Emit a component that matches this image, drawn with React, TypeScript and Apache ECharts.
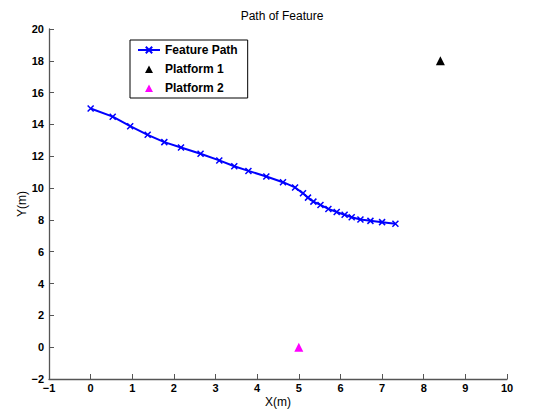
import React, { useEffect, useRef } from "react";
import * as echarts from "echarts";

const pathX = [0.0, 0.53, 0.95, 1.37, 1.77, 2.17, 2.64, 3.09, 3.45, 3.79, 4.22, 4.62, 4.91, 5.1, 5.22, 5.35, 5.52, 5.71, 5.91, 6.1, 6.27, 6.48, 6.72, 7.0, 7.32];
const pathY = [15.0, 14.49, 13.89, 13.35, 12.89, 12.55, 12.16, 11.74, 11.37, 11.08, 10.73, 10.37, 10.04, 9.67, 9.4, 9.15, 8.94, 8.69, 8.5, 8.32, 8.17, 8.03, 7.94, 7.86, 7.76];
const platform1 = [8.4, 18.0];
const platform2 = [5.0, 0.0];
const seriesNames = ["Feature Path", "Platform 1", "Platform 2"];

const xMark = "path://M0,0L10,10M10,0L0,10";
const legendTriangle = "path://M0,0M22,0M22,8M0,8M7,8L11,0.5L15,8Z";
const fontFamily = "'Liberation Sans', Arial, Helvetica, sans-serif";
const fmt = (v: number) => String(v).replace("-", "\u2212");

export default function App() {
  const ref = useRef<HTMLDivElement>(null);
  useEffect(() => {
    if (!ref.current) return;
    const chart = echarts.init(ref.current, undefined, { renderer: "svg" });
    const pathData = pathX.map((x, i) => [x, pathY[i]]);
    chart.setOption({
      animation: false,
      backgroundColor: "#ffffff",
      title: {
        text: "Path of Feature",
        left: 277,
        textAlign: "center",
        top: 5,
        textStyle: { fontFamily, fontSize: 12, fontWeight: "normal", color: "#000" },
      },
      legend: {
        orient: "vertical",
        left: 130,
        top: 40,
        data: [
          { name: seriesNames[0] },
          { name: seriesNames[1], icon: legendTriangle },
          { name: seriesNames[2], icon: legendTriangle },
        ],
        backgroundColor: "#fff",
        borderColor: "#000",
        borderWidth: 1,
        borderRadius: 0,
        padding: [4, 10, 4, 7],
        itemGap: 7,
        itemWidth: 22,
        itemHeight: 8,
        textStyle: { fontFamily, fontSize: 12, fontWeight: "bold", color: "#000" },
      },
      grid: { left: 49, right: 38, top: 29, bottom: 31, containLabel: false },
      xAxis: {
        type: "value",
        min: -1,
        max: 10,
        interval: 1,
        name: "X(m)",
        nameLocation: "middle",
        nameGap: 17,
        nameMoveOverlap: false,
        nameTextStyle: { fontFamily, fontSize: 12, color: "#000" },
        axisLine: { onZero: false, lineStyle: { color: "#555", width: 1.3 } },
        axisTick: { inside: true, length: 5, lineStyle: { color: "#555" } },
        splitLine: { show: false },
        axisLabel: { fontFamily, fontSize: 11, fontWeight: "bold", color: "#000", margin: 3, formatter: fmt },
      },
      yAxis: {
        type: "value",
        min: -2,
        max: 20,
        interval: 2,
        name: "Y(m)",
        nameLocation: "middle",
        nameGap: 21,
        nameMoveOverlap: false,
        nameTextStyle: { fontFamily, fontSize: 12, color: "#000" },
        axisLine: { onZero: false, lineStyle: { color: "#555", width: 1.3 } },
        axisTick: { inside: true, length: 5, lineStyle: { color: "#555" } },
        splitLine: { show: false },
        axisLabel: { fontFamily, fontSize: 11, fontWeight: "bold", color: "#000", margin: 5, formatter: fmt },
      },
      series: [
        {
          name: seriesNames[0],
          type: "line",
          data: pathData,
          symbol: xMark,
          symbolSize: 6,
          showAllSymbol: true,
          lineStyle: { color: "#0000ff", width: 2 },
          itemStyle: { color: "#0000ff", borderColor: "#0000ff", borderWidth: 1.5 },
        },
        {
          name: seriesNames[1],
          type: "scatter",
          data: [platform1],
          symbol: "triangle",
          symbolSize: 9,
          itemStyle: { color: "#000000", opacity: 1 },
        },
        {
          name: seriesNames[2],
          type: "scatter",
          data: [platform2],
          symbol: "triangle",
          symbolSize: 9,
          itemStyle: { color: "#ff00ff", opacity: 1 },
        },
      ],
    });
    return () => chart.dispose();
  }, []);
  return <div ref={ref} style={{ width: 545, height: 413, position: "absolute", left: 0, top: 0 }} />;
}
